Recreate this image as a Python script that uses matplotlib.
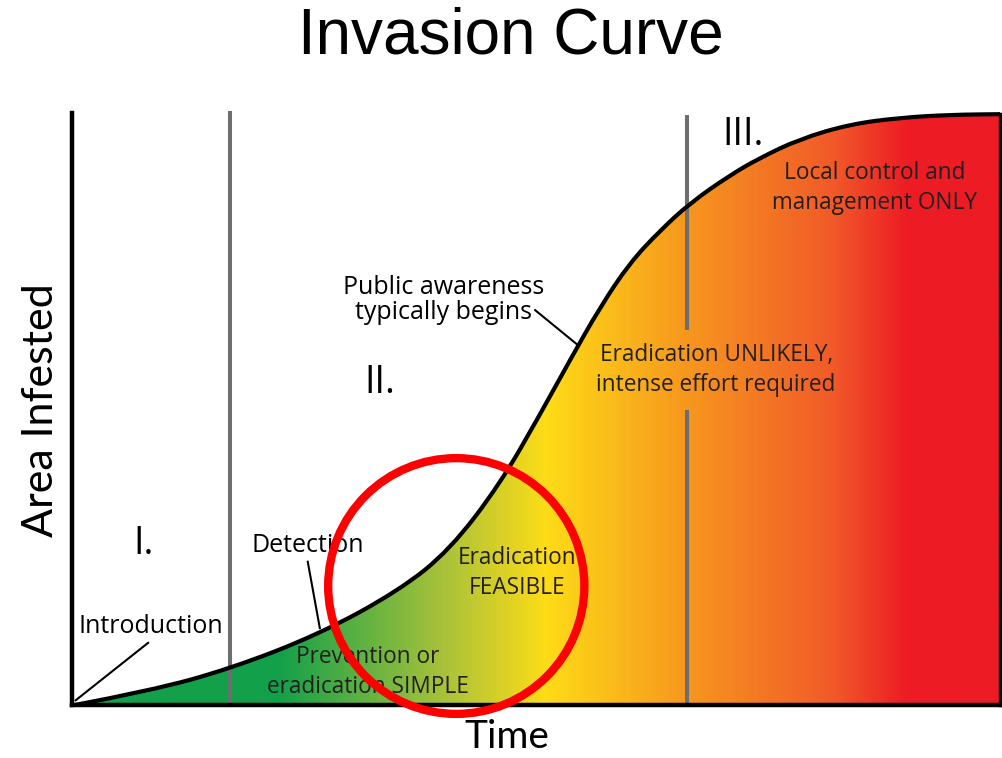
import matplotlib
matplotlib.use("Agg")
import numpy as np
import matplotlib.pyplot as plt
from matplotlib.colors import LinearSegmentedColormap
from matplotlib.patches import Ellipse, PathPatch
from matplotlib.path import Path

# curve (time 0-100, area 0-100)
time = [0.3, 8.4, 17.0, 26.7, 35.3, 40.7, 46.1, 50.4, 53.7, 56.9, 60.1,
        63.4, 66.6, 70.9, 74.1, 78.4, 83.8, 89.2, 94.6, 100]
area = [0, 2.4, 6.1, 12.0, 19.4, 26.2, 37.3, 49.0, 58.4, 67.2, 74.7,
        80.2, 84.8, 89.5, 92.4, 95.6, 98.1, 99.2, 99.7, 99.8]

# colour ramp along time
ramp_pos = [0, 22, 40, 51, 66, 82, 90, 100]
ramp_col = ["#12a04a", "#12a04a", "#a9c23a", "#fddc17", "#f7981e",
            "#f15a29", "#ed1c24", "#ed1c24"]

stage_lines = [17.0, 66.3]

# (text, time, area, size, colour, linespacing)
labels = [
    ("I.", 7.7, 27.2, 27, "black", 1.0),
    ("II.", 33.2, 54.4, 27, "black", 1.0),
    ("III.", 72.3, 96.2, 27, "black", 1.0),
    ("Introduction", 8.5, 13.3, 18, "black", 1.0),
    ("Detection", 25.4, 27.0, 18, "black", 1.0),
    ("Public awareness\ntypically begins", 40.0, 68.4, 18, "black", 1.0),
    ("Eradication UNLIKELY,\nintense effort required", 69.4, 56.6, 16.3, "#231f20", 1.3),
    ("Local control and\nmanagement ONLY", 86.5, 87.3, 16.3, "#231f20", 1.3),
    ("Eradication\nFEASIBLE", 48.0, 22.3, 16.3, "#231f20", 1.3),
    ("Prevention or\neradication SIMPLE", 31.9, 5.6, 16.3, "#231f20", 1.3),
]

leaders = [
    ((0.4, 8.2), (0.8, 10.5)),
    ((25.4, 26.7), (24.2, 13.0)),
    ((49.9, 54.5), (66.7, 60.8)),
]


def smooth_path(xs, ys, close=False):
    # quadratic bezier through the midpoints, read points as control points
    pts = np.column_stack([xs, ys])
    verts = [pts[0]]
    codes = [Path.MOVETO]
    for i in range(1, len(pts) - 1):
        verts += [pts[i], (pts[i] + pts[i + 1]) / 2]
        codes += [Path.CURVE3, Path.CURVE3]
    verts.append(pts[-1])
    codes.append(Path.LINETO)
    if close:
        verts += [(xs[-1], 0), (xs[0], 0), pts[0]]
        codes += [Path.LINETO, Path.LINETO, Path.CLOSEPOLY]
    return Path(verts, codes)


fig = plt.figure(figsize=(10.02, 7.58), dpi=100)
ax = fig.add_axes([72 / 1002, 53 / 758, 930 / 1002, 592 / 758])
ax.set_xlim(0, 100.2)
ax.set_ylim(0, 100)
for s in ["top", "right"]:
    ax.spines[s].set_visible(False)
for s in ["left", "bottom"]:
    ax.spines[s].set_linewidth(3.2)
    ax.spines[s].set_zorder(6)
ax.set_xticks([])
ax.set_yticks([])

# gradient fill under the curve
cmap = LinearSegmentedColormap.from_list(
    "inv", list(zip(np.array(ramp_pos) / 100, ramp_col)))
grad = np.linspace(0, 1, 512).reshape(1, -1)
img = ax.imshow(grad, extent=(0, 100, 0, 100), aspect="auto", cmap=cmap,
                origin="lower", zorder=1)
fill = PathPatch(smooth_path(time, area, close=True), facecolor="none",
                 edgecolor="none")
ax.add_patch(fill)
img.set_clip_path(fill)

# stage lines
gray = "#6d6e70"
ax.plot([stage_lines[0]] * 2, [0, 100.3], color=gray, lw=2.9, zorder=2,
        clip_on=False, solid_capstyle="butt")
ax.plot([stage_lines[1]] * 2, [0, 49.8], color=gray, lw=2.9, zorder=2,
        solid_capstyle="butt")
ax.plot([stage_lines[1]] * 2, [63.3, 99.7], color=gray, lw=2.9, zorder=2,
        solid_capstyle="butt")

# curve and right edge
ax.add_patch(PathPatch(smooth_path(time, area), facecolor="none",
                       edgecolor="black", lw=3, zorder=4, clip_on=False))
ax.plot([time[-1], time[-1]], [area[-1], 0], color="black", lw=2.5, zorder=4,
        clip_on=False)

for (xs, ys) in leaders:
    ax.plot(xs, ys, color="black", lw=1.5, zorder=4)

for txt, x, y, size, col, ls in labels:
    ax.text(x, y, txt, ha="center", va="center", fontsize=size, color=col,
            family="Open Sans", zorder=5, linespacing=ls)

# red circle
ax.add_patch(Ellipse((41.4, 20.1), 27.6, 43.2, facecolor="none",
                     edgecolor="#ff0000", lw=6, zorder=7, clip_on=False))

fig.text(511 / 1002, 1 - 37 / 758, "Invasion Curve", ha="center", va="center",
         fontsize=46, family="Liberation Sans")
fig.text(507 / 1002, 1 - 748 / 758, "Time", ha="center", va="baseline",
         fontsize=28, family="Lato")
fig.text(41 / 1002, 1 - 410 / 758, "Area Infested", ha="center", va="center",
         fontsize=31, family="Lato", rotation=90)

fig.savefig("out.png", dpi=100)
